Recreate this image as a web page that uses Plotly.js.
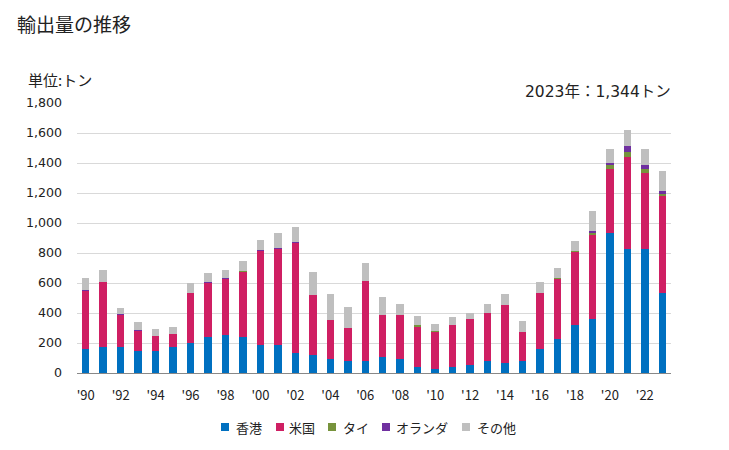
<!DOCTYPE html>
<html>
<head>
<meta charset="utf-8">
<script src="https://cdn.plot.ly/plotly-3.0.1.min.js"></script>
<style>html,body{margin:0;padding:0;background:#fff;}#chart{width:729px;height:450px;}</style>
</head>
<body>
<div id="chart"></div>
<script>
const years = [1990,1991,1992,1993,1994,1995,1996,1997,1998,1999,2000,2001,2002,2003,2004,2005,2006,2007,2008,2009,2010,2011,2012,2013,2014,2015,2016,2017,2018,2019,2020,2021,2022,2023];
const hongkong = [158,176,171,149,144,176,198,238,256,242,189,189,136,122,91,78,82,104,91,38,29,38,56,78,69,82,162,224,322,358,936,824,824,536];
const usa      = [391,433,213,129,105,86,338,364,373,434,627,638,731,400,265,224,534,285,298,271,247,284,306,324,382,194,374,405,487,564,426,618,512,646];
const thailand = [0,0,0,0,0,0,0,0,0,6,0,0,0,0,0,0,0,0,0,9,6,0,0,0,0,0,0,7,7,14,27,34,26,14];
const netherlands = [7,0,7,11,0,0,0,7,7,0,6,5,9,0,0,0,0,0,0,0,0,0,0,0,5,0,0,0,0,13,13,40,27,20];
const others   = [80,80,45,53,47,47,66,60,53,67,67,104,100,154,173,140,120,120,73,64,47,54,40,60,73,73,73,66,66,133,94,106,107,128];
const seriesNames = ['香港','米国','タイ','オランダ','その他'];
const seriesColors = ['#0070c0','#cf1f63','#77933c','#7030a0','#bfbfbf'];
const tickYears = [1990,1992,1994,1996,1998,2000,2002,2004,2006,2008,2010,2012,2014,2016,2018,2020,2022];
const tickLabels = ["'90","'92","'94","'96","'98","'00","'02","'04","'06","'08","'10","'12","'14","'16","'18","'20","'22"];

const F = '"Noto Sans CJK JP", "Noto Sans", sans-serif';
const FN = '"DejaVu Sans", "Noto Sans CJK JP", sans-serif';
const data = [hongkong, usa, thailand, netherlands, others].map((vals, i) => ({
  type: 'bar', x: years, y: vals, name: seriesNames[i],
  marker: {color: seriesColors[i]}, hoverinfo: 'x+y+name'
}));

// plot area in pixels: x 77..671, y 103..373
const px = v => (v - 77) / 594;
const py = v => (373 - v) / 270;

// legend drawn as squares + text
const legendSquares = [221, 276, 328, 382, 462];
const legendTextX = [234, 287, 341, 394, 475];
const shapes = legendSquares.map((x0, i) => ({
  type: 'rect', xref: 'paper', yref: 'paper', x0: px(x0), x1: px(x0 + 8), y0: py(431), y1: py(423),
  fillcolor: seriesColors[i], line: {width: 0}
}));
const legendAnn = legendTextX.map((x, i) => ({
  text: seriesNames[i], xref: 'paper', yref: 'paper', x: px(x), y: py(427), xanchor: 'left', yanchor: 'middle',
  showarrow: false, font: {family: F, size: 13, color: '#222'}
}));

const layout = {
  width: 729, height: 450,
  margin: {l: 77, r: 58, t: 103, b: 77},
  paper_bgcolor: '#fff', plot_bgcolor: '#fff',
  barmode: 'stack', bargap: 0.57,
  font: {family: F, color: '#222', size: 13},
  title: {text: '輸出量の推移', x: 17/729, xanchor: 'left', xref: 'container', y: 1 - 25/450, yanchor: 'middle', yref: 'container', font: {family: F, size: 19, color: '#222'}},
  xaxis: {range: [1989.5, 2023.5], tickvals: tickYears, ticktext: tickLabels, showgrid: false, zeroline: false,
    showline: true, linecolor: '#888', linewidth: 1, ticks: '', ticklabelstandoff: 10, tickfont: {family: F, size: 13, color: '#222'}, fixedrange: true},
  yaxis: {range: [0, 1800], dtick: 200, tick0: 0, tickformat: ',d', showgrid: true, gridcolor: '#d9d9d9', gridwidth: 1,
    zeroline: false, showline: false, ticks: '', ticklabelstandoff: 14, tickfont: {family: FN, size: 12.6, color: '#222'}, fixedrange: true},
  showlegend: false,
  shapes: shapes,
  annotations: [
    {text: '単位:トン', xref: 'paper', yref: 'paper', x: px(26), y: py(79), xanchor: 'left', yanchor: 'middle', showarrow: false, font: {family: F, size: 15, color: '#222'}},
    {text: '2023年：1,344トン', xref: 'paper', yref: 'paper', x: px(673), y: py(92), xanchor: 'right', yanchor: 'middle', showarrow: false, font: {family: FN, size: 15.5, color: '#222'}}
  ].concat(legendAnn)
};
Plotly.newPlot('chart', data, layout, {displayModeBar: false, staticPlot: true});
</script>
</body>
</html>
